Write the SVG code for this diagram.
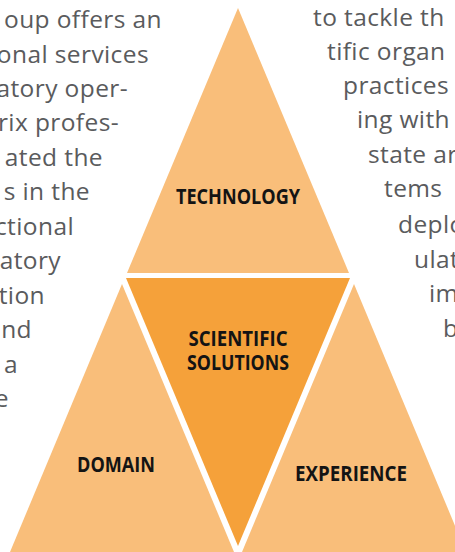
<svg xmlns="http://www.w3.org/2000/svg" width="455" height="552" viewBox="0 0 455 552">
<style>
.light{fill:#F9BE7A}
.dark{fill:#F5A13A}
.lbl{font-family:"Open Sans","Liberation Sans",sans-serif;font-weight:bold;font-size:22px;fill:#141414}
.body{font-family:"Open Sans","Liberation Sans",sans-serif;font-size:24.5px;fill:#5A5B5D;letter-spacing:0.4px}
</style>
<rect width="455" height="552" fill="#FFFFFF"/>
<g id="text-left" class="body" text-anchor="end">
<text x="162" y="28">oup offers an</text>
<text x="149" y="63">onal services</text>
<text x="128" y="97">atory oper-</text>
<text x="119" y="131">rix profes-</text>
<text x="103" y="166">ated the</text>
<text x="90" y="200">s in the</text>
<text x="74" y="235">ctional</text>
<text x="61" y="269">atory</text>
<text x="45" y="304">tion</text>
<text x="32" y="338">nd</text>
<text x="18" y="373">a</text>
<text x="9" y="407">e</text>
</g>
<g id="text-right" class="body">
<text x="313" y="26">to tackle th</text>
<text x="327" y="60">tific organ</text>
<text x="343" y="94">practices</text>
<text x="357" y="128">ing with</text>
<text x="368" y="163">state ar</text>
<text x="384" y="197">tems</text>
<text x="398" y="233">deplo</text>
<text x="414" y="268">ulat</text>
<text x="429" y="302">im</text>
<text x="443" y="337">b</text>
</g>
<g id="connectors"/>
<g id="technology">
<polygon class="light" points="238,8 349,273 127,273"/>
<text class="lbl" x="238" y="204" text-anchor="middle" textLength="124" lengthAdjust="spacingAndGlyphs">TECHNOLOGY</text>
</g>
<g id="scientific-solutions">
<polygon class="dark" points="126,278 350,278 238,546"/>
<text class="lbl" x="238" y="346" text-anchor="middle" textLength="99" lengthAdjust="spacingAndGlyphs">SCIENTIFIC</text>
<text class="lbl" x="238" y="370" text-anchor="middle" textLength="102" lengthAdjust="spacingAndGlyphs">SOLUTIONS</text>
</g>
<g id="domain">
<polygon class="light" points="122,284 234,552 10,552"/>
<text class="lbl" x="116" y="472" text-anchor="middle" textLength="78" lengthAdjust="spacingAndGlyphs">DOMAIN</text>
</g>
<g id="experience">
<polygon class="light" points="354,284 466,552 242,552"/>
<text class="lbl" x="351" y="481" text-anchor="middle" textLength="112" lengthAdjust="spacingAndGlyphs">EXPERIENCE</text>
</g>
</svg>
